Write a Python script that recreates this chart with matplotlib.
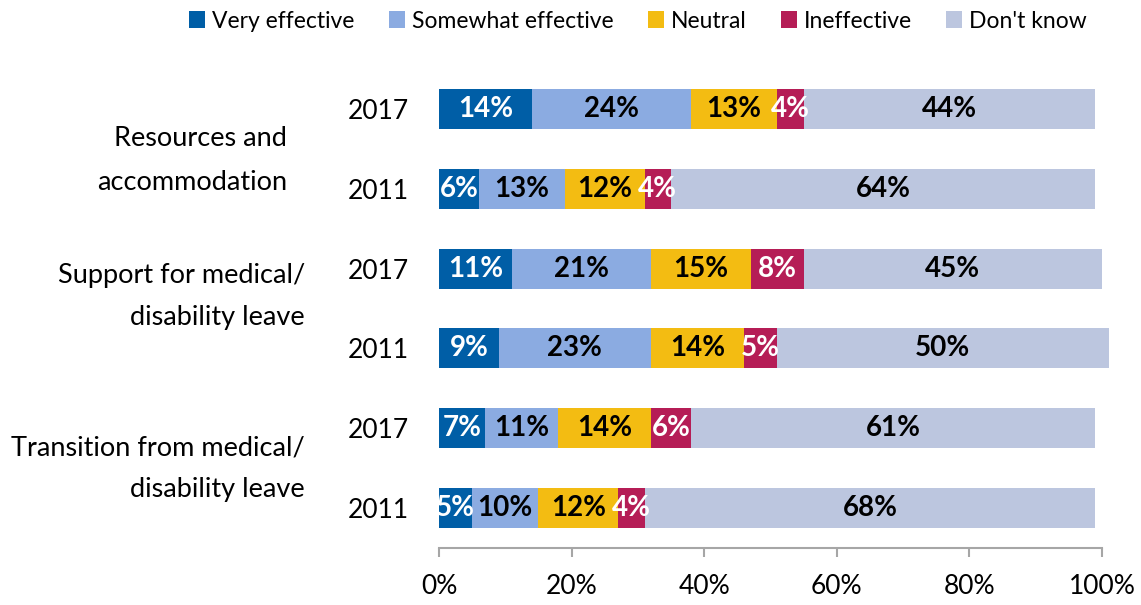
import matplotlib
matplotlib.use("Agg")
import matplotlib.pyplot as plt
import numpy as np

plt.rcParams['font.family'] = ['Lato', 'DejaVu Sans']

# Survey responses (% of respondents), one row per bar, top to bottom
years = ["2017", "2011", "2017", "2011", "2017", "2011"]
groups = ["Resources and\naccommodation",
          "Support for medical/\ndisability leave",
          "Transition from medical/\ndisability leave"]
categories = ["Very effective", "Somewhat effective", "Neutral", "Ineffective", "Don't know"]
very_effective = [14, 6, 11, 9, 7, 5]
somewhat_effective = [24, 13, 21, 23, 11, 10]
neutral = [13, 12, 15, 14, 14, 12]
ineffective = [4, 4, 8, 5, 6, 4]
dont_know = [44, 64, 45, 50, 61, 68]
x_ticks = [0, 20, 40, 60, 80, 100]

series = [very_effective, somewhat_effective, neutral, ineffective, dont_know]
colors = ["#005EA6", "#8BABE1", "#F3BC12", "#B51D56", "#BCC6DF"]
label_colors = ["white", "black", "black", "white", "black"]

W, H = 1141, 605
fig = plt.figure(figsize=(W / 100, H / 100), dpi=100)

# axes placed in pixel terms: x 439..1102, y 69..548
ax_left, ax_right, ax_top, ax_bottom = 439, 1102, 69, 548
ax = fig.add_axes([ax_left / W, 1 - ax_bottom / H,
                   (ax_right - ax_left) / W, (ax_bottom - ax_top) / H])

ypos = np.arange(len(years))
left = np.zeros(len(years))
handles = []
for vals, col, tcol, name in zip(series, colors, label_colors, categories):
    vals = np.array(vals, dtype=float)
    bars = ax.barh(ypos, vals, left=left, height=0.5, color=col, label=name, linewidth=0)
    for b in bars:
        b.set_clip_on(False)
    handles.append(bars)
    for y, l, v in zip(ypos, left, vals):
        ax.text(l + v / 2, y, f"{int(v)}%", ha="center", va="center",
                color=tcol, fontsize=20, fontweight="bold", clip_on=True)
    left += vals

ax.set_xlim(0, 100)
ax.set_ylim(5.5, -0.5)
ax.set_xticks(x_ticks)
ax.set_xticklabels([f"{t}%" for t in x_ticks], fontsize=19)
ax.set_yticks(ypos)
ax.set_yticklabels(years, fontsize=19)
ax.tick_params(axis="y", length=0, pad=22)
ax.tick_params(axis="x", length=6.5, width=1.5, color="#A6A6A6", pad=12)
for s in ["top", "right", "left"]:
    ax.spines[s].set_visible(False)
ax.spines["bottom"].set_color("#A6A6A6")
ax.spines["bottom"].set_linewidth(1.5)

# group labels, right aligned, one line at a time
group_right = [287, 305, 305]
group_lines_y = [(139, 182), (275, 318), (448, 490)]
for text, xr, ys in zip(groups, group_right, group_lines_y):
    for line, yy in zip(text.split("\n"), ys):
        fig.text(xr / W, 1 - yy / H, line, ha="right", va="center", fontsize=19.5)

fig.legend(handles=handles, labels=categories, loc="center",
           bbox_to_anchor=(638 / W, 1 - 21 / H), ncol=5, frameon=False,
           fontsize=16.5, handlelength=0.7, handleheight=0.7, handletextpad=0.3,
           columnspacing=1.5, borderpad=0)

fig.savefig("out.png", dpi=100)
